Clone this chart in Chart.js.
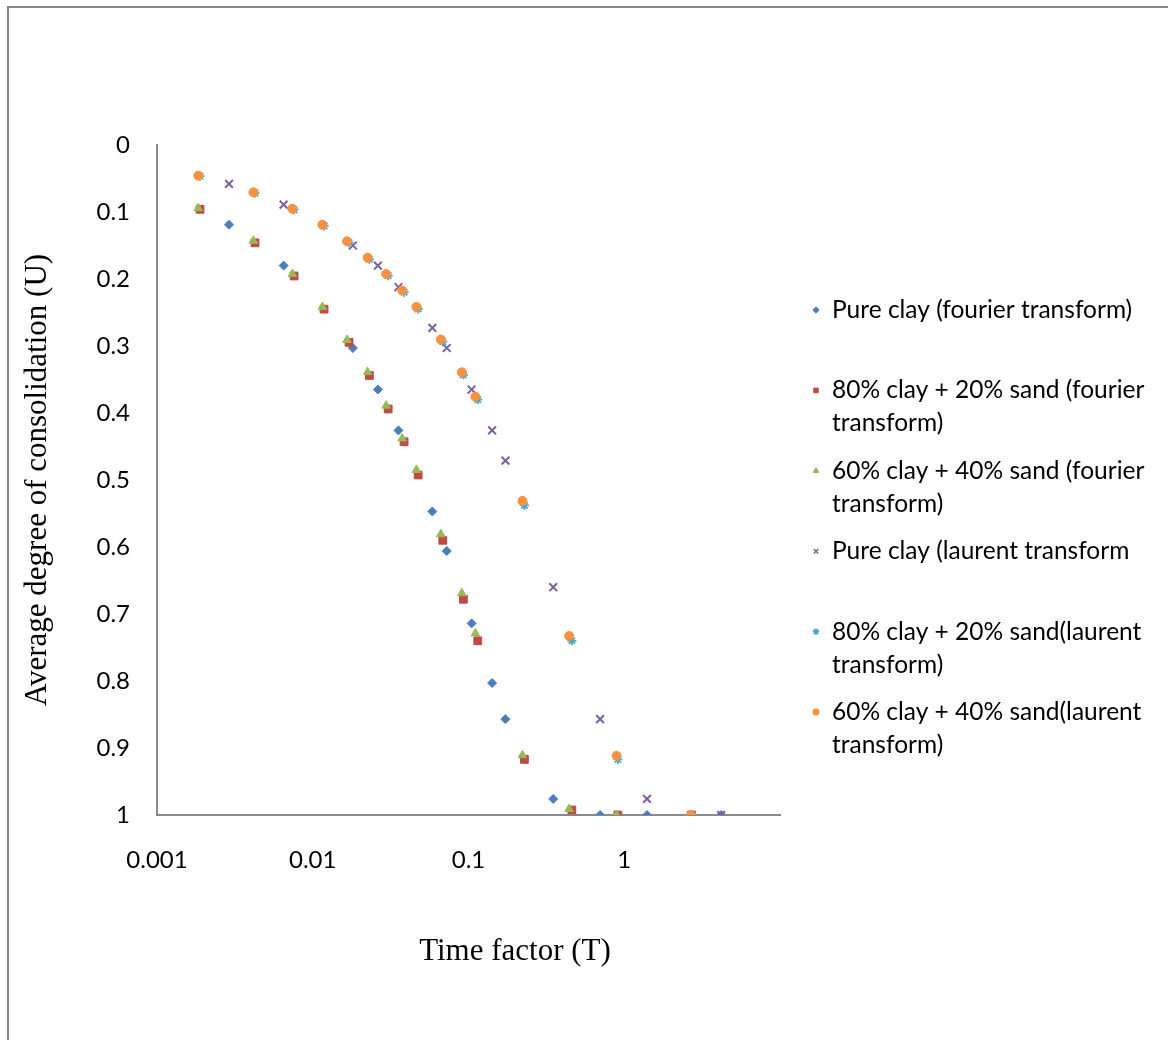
<!DOCTYPE html>
<html>
<head>
<meta charset="utf-8">
<title>Average degree of consolidation vs time factor</title>
<script src="https://cdn.jsdelivr.net/npm/chart.js@4.4.1/dist/chart.umd.min.js"></script>
<style>
  html, body { margin: 0; padding: 0; background: #fff; overflow: hidden; }
  #wrap { position: relative; width: 1168px; height: 1040px; }
  #frame {
    position: absolute; left: 7px; top: 6px; width: 1200px; height: 1100px;
    border-left: 2px solid #878787; border-top: 2px solid #878787;
    pointer-events: none;
  }
  canvas { position: absolute; left: 0; top: 0; }
</style>
</head>
<body>
<div id="wrap">
  <canvas id="chart" width="1168" height="1040"></canvas>
  <div id="frame"></div>
</div>
<script>
// Time factor (T) values
const tPure = [0.0029, 0.0065, 0.0181, 0.0262, 0.0355, 0.0586, 0.0725, 0.1047, 0.1418, 0.1726, 0.35, 0.70, 1.40, 4.19];
const tMix80 = [0.00189, 0.00426, 0.00759, 0.01182, 0.0171, 0.0231, 0.0305, 0.0386, 0.0475, 0.0684, 0.0927, 0.1147, 0.2286, 0.461, 0.91, 2.70];
const tMix60 = [0.00184, 0.00416, 0.0074, 0.01153, 0.0166, 0.0225, 0.0296, 0.0375, 0.0463, 0.0664, 0.0906, 0.1107, 0.222, 0.443, 0.893, 2.68];

// Average degree of consolidation (U)
const uPureFourier = [0.119, 0.180, 0.303, 0.365, 0.426, 0.547, 0.606, 0.714, 0.803, 0.857, 0.976, 1, 1, 1];
const u80Fourier = [0.096, 0.146, 0.1955, 0.245, 0.2945, 0.344, 0.394, 0.443, 0.4925, 0.590, 0.678, 0.740, 0.917, 0.9925, 1, 1];
const u60Fourier = [0.0945, 0.143, 0.1925, 0.242, 0.291, 0.339, 0.389, 0.438, 0.485, 0.581, 0.669, 0.729, 0.911, 0.991, 1, 1];
const uPureLaurent = [0.058, 0.089, 0.150, 0.180, 0.212, 0.273, 0.303, 0.365, 0.426, 0.471, 0.660, 0.857, 0.976, 1];
const u80Laurent = [0.0465, 0.0718, 0.0966, 0.1208, 0.1458, 0.1706, 0.195, 0.2198, 0.2448, 0.2935, 0.343, 0.380, 0.538, 0.740, 0.917, 1];
const u60Laurent = [0.0458, 0.0706, 0.0951, 0.119, 0.1437, 0.1682, 0.1925, 0.2172, 0.2418, 0.2903, 0.3393, 0.3757, 0.5313, 0.7328, 0.9115, 1];

const seriesNames = [
  'Pure clay (fourier transform)',
  '80% clay + 20% sand (fourier transform)',
  '60% clay + 40% sand (fourier transform)',
  'Pure clay (laurent transform',
  '80% clay + 20% sand(laurent transform)',
  '60% clay + 40% sand(laurent transform)'
];

const xTickValues = [0.001, 0.01, 0.1, 1, 10];
const xTickLabels = ['0.001', '0.01', '0.1', '1', ''];
const yTickLabels = ['0', '0.1', '0.2', '0.3', '0.4', '0.5', '0.6', '0.7', '0.8', '0.9', '1'];

const xTitle = 'Time factor (T)';
const yTitle = 'Average degree of consolidation (U)';

const TICK_FONT = 'Lato';
const TITLE_FONT = '"Liberation Serif", "Times New Roman", serif';

// marker look per series (Excel 2007 defaults)
const markers = [
  { style: 'rectRot', color: '#4A7EBB', radius: 4.5, border: 1 },
  { style: 'rect', color: '#BE4B48', radius: 5.5, border: 1 },
  { style: 'triangle', color: '#98B954', radius: 5, border: 1 },
  { style: 'crossRot', color: '#7D60A0', radius: 5.5, border: 2 },
  { style: 'star', color: '#46AAC5', radius: 4.5, border: 1.8 },
  { style: 'circle', color: '#F69240', radius: 4.5, border: 1 }
];

const xs = [tPure, tMix80, tMix60, tPure, tMix80, tMix60];
const ys = [uPureFourier, u80Fourier, u60Fourier, uPureLaurent, u80Laurent, u60Laurent];

const datasets = seriesNames.map((name, i) => ({
  label: name,
  data: xs[i].map((t, k) => ({ x: t, y: ys[i][k] })),
  showLine: false,
  pointStyle: markers[i].style,
  pointRadius: markers[i].radius,
  pointHoverRadius: markers[i].radius,
  pointBorderWidth: markers[i].border,
  backgroundColor: markers[i].color,
  borderColor: markers[i].color,
  // later series are drawn on top, like the original
  order: seriesNames.length - i
}));

/**
 * Axis titles and the wrapped legend on the right
 */
const annotate = {
  id: 'annotate',
  afterDraw(chart) {
    const { ctx, chartArea } = chart;
    ctx.save();
    ctx.fillStyle = '#000';
    ctx.textAlign = 'center';
    ctx.textBaseline = 'middle';
    ctx.font = '31px ' + TITLE_FONT;
    ctx.fillText(xTitle, 515, 952);

    ctx.save();
    ctx.translate(38, (chartArea.top + chartArea.bottom) / 2);
    ctx.rotate(-Math.PI / 2);
    ctx.fillText(yTitle, 0, 0);
    ctx.restore();

    // legend
    const left = 832;
    const maxWidth = 1162 - left;
    ctx.font = '24.5px ' + TICK_FONT;
    ctx.textAlign = 'left';
    seriesNames.forEach((name, i) => {
      const y0 = 310 + i * 80.4;
      const m = markers[i];
      ctx.fillStyle = m.color;
      ctx.strokeStyle = m.color;
      ctx.lineWidth = m.style === 'crossRot' || m.style === 'star' ? 1.5 : 1;
      Chart.helpers.drawPoint(ctx, {
        pointStyle: m.style,
        radius: 3.2,
        rotation: 0,
        borderWidth: ctx.lineWidth
      }, 816, y0);

      // word wrap
      const words = name.split(' ');
      const lines = [];
      let line = '';
      words.forEach(w => {
        const test = line ? line + ' ' + w : w;
        if (ctx.measureText(test).width > maxWidth && line) {
          lines.push(line);
          line = w;
        } else {
          line = test;
        }
      });
      lines.push(line);

      ctx.fillStyle = '#000';
      lines.forEach((l, k) => ctx.fillText(l, left, y0 + k * 33));
    });
    ctx.restore();
  }
};

new Chart(document.getElementById('chart'), {
  type: 'scatter',
  data: { datasets },
  plugins: [annotate],
  options: {
    responsive: false,
    animation: false,
    devicePixelRatio: 1,
    layout: {
      padding: { left: 0, top: 145, right: 388, bottom: 0 }
    },
    plugins: {
      legend: { display: false },
      tooltip: { enabled: false },
      title: { display: false }
    },
    scales: {
      x: {
        type: 'logarithmic',
        min: 0.001,
        max: 10,
        afterBuildTicks: (scale) => {
          scale.ticks = xTickValues.map(v => ({ value: v }));
        },
        afterFit: (scale) => {
          scale.height = 1040 - 815;
        },
        grid: { display: false },
        border: { display: true, color: '#8a8a8a', width: 2 },
        ticks: {
          color: '#000',
          padding: 23,
          maxRotation: 0,
          autoSkip: false,
          font: { family: TICK_FONT, size: 24 },
          callback: (value, index) => xTickLabels[index]
        }
      },
      y: {
        type: 'linear',
        reverse: true,
        min: 0,
        max: 1,
        afterFit: (scale) => {
          scale.width = 157;
        },
        grid: { display: false },
        border: { display: true, color: '#8a8a8a', width: 2 },
        ticks: {
          color: '#000',
          stepSize: 0.1,
          padding: 19,
          font: { family: TICK_FONT, size: 24 },
          callback: (value) => yTickLabels[Math.round(value * 10)]
        }
      }
    }
  }
});
</script>
</body>
</html>
